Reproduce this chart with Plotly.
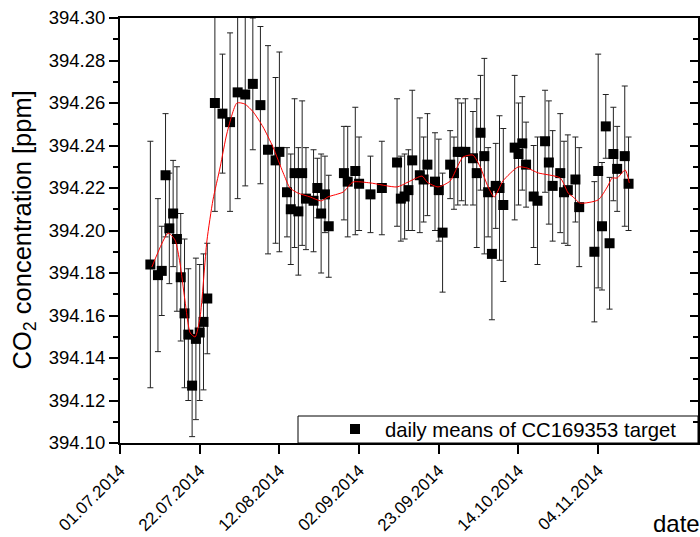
import pandas as pd
import plotly.graph_objects as go

# ---- data ----
start = pd.Timestamp("2014-07-01")

day_offsets = [8, 10, 11, 12, 13, 14, 15, 16, 17, 18, 19, 20, 21, 22, 23,
               25, 27, 29, 31, 33, 35, 37, 39, 41, 42, 44, 45, 46, 47, 48, 49, 51, 52, 53, 54, 55,
               59, 60, 62, 63, 66, 69, 73, 74, 75, 76, 77, 79, 80, 81, 83, 84, 85, 87, 88, 89, 90,
               91, 93, 94, 95, 96, 97, 98, 99, 100, 101,
               104, 105, 106, 107, 109, 110, 112, 113, 114, 116, 117, 118, 120, 121, 125, 126, 127,
               128, 129, 130, 131, 133, 134]

co2_means = [394.184, 394.179, 394.181, 394.226, 394.201, 394.208, 394.196, 394.178, 394.161,
             394.151, 394.127, 394.149, 394.152, 394.157, 394.168,
             394.260, 394.255, 394.251, 394.265, 394.264, 394.269, 394.259, 394.238, 394.233,
             394.237, 394.218, 394.210, 394.227, 394.209, 394.227, 394.215, 394.214, 394.220,
             394.208, 394.217, 394.202,
             394.227, 394.223, 394.228, 394.222, 394.217, 394.220, 394.232, 394.215, 394.216,
             394.219, 394.233, 394.226, 394.224, 394.231, 394.223, 394.219, 394.199, 394.231,
             394.227, 394.237, 394.237, 394.237, 394.234, 394.227, 394.246, 394.235, 394.218,
             394.189, 394.221, 394.220, 394.212,
             394.239, 394.236, 394.241, 394.231, 394.216, 394.214, 394.242, 394.232, 394.221,
             394.227, 394.218, 394.219, 394.224, 394.211, 394.190, 394.228, 394.202, 394.249,
             394.194, 394.236, 394.229, 394.235, 394.222]

co2_errors = [0.058, 0.036, 0.021, 0.029, 0.026, 0.025, 0.034, 0.030, 0.035, 0.031, 0.024,
              0.038, 0.032, 0.032, 0.026,
              0.051, 0.028, 0.042, 0.050, 0.043, 0.031, 0.037, 0.049, 0.039, 0.047, 0.021,
              0.026, 0.035, 0.030, 0.034, 0.024, 0.024, 0.014, 0.028, 0.018, 0.024,
              0.022, 0.026, 0.030, 0.022, 0.018, 0.022, 0.030, 0.020, 0.020, 0.019, 0.033,
              0.027, 0.020, 0.024, 0.023, 0.024, 0.028, 0.016, 0.017, 0.025, 0.023, 0.025,
              0.022, 0.035, 0.027, 0.046, 0.021, 0.031, 0.020, 0.034, 0.036,
              0.034, 0.024, 0.022, 0.020, 0.024, 0.030, 0.024, 0.029, 0.026, 0.028, 0.024,
              0.026, 0.020, 0.028, 0.033, 0.055, 0.030, 0.015, 0.031, 0.022, 0.020, 0.033, 0.022]

smooth_days = [8.4, 12.7, 14.5, 15.8, 17.1, 18.5, 19.8, 21.1, 22.9, 24.5, 26.4, 28.2, 30.8,
               32.9, 35.1, 37.7, 40.3, 43.0, 44.8, 46.9, 50.1, 53.0, 54.8, 58.8, 61.4, 65.9,
               73.0, 75.9, 79.6, 80.9, 83.8, 87.0, 89.1, 90.4, 93.0, 94.9, 97.0, 98.6, 100.9,
               104.9, 107.3, 110.2, 116.0, 118.1, 119.4, 121.2, 126.0, 128.4, 129.7, 131.0,
               133.1, 134.2]
smooth_vals = [394.1828, 394.1988, 394.1955, 394.1847, 394.1673, 394.1518, 394.1499, 394.1593,
               394.1951, 394.2144, 394.2299, 394.2459, 394.2600, 394.2595, 394.2558, 394.2487,
               394.2393, 394.2271, 394.2200, 394.2176, 394.2158, 394.2139, 394.2158, 394.2181,
               394.2228, 394.2224, 394.2205, 394.2228, 394.2256, 394.2228, 394.2205, 394.2233,
               394.2308, 394.2346, 394.2355, 394.2299, 394.2205, 394.2158, 394.2233, 394.2299,
               394.2294, 394.2271, 394.2247, 394.2176, 394.2158, 394.2129, 394.2144, 394.2205,
               394.2247, 394.2247, 394.2285, 394.2224]

tick_dates = ["2014-07-01", "2014-07-22", "2014-08-12", "2014-09-02",
              "2014-09-23", "2014-10-14", "2014-11-04"]
tick_labels = ["01.07.2014", "22.07.2014", "12.08.2014", "02.09.2014",
               "23.09.2014", "14.10.2014", "04.11.2014"]

legend_name = "daily means of CC169353 target"

# ---- build ----
dates = [start + pd.Timedelta(days=d) for d in day_offsets]
sm_dates = [start + pd.Timedelta(days=d) for d in smooth_days]

FONT = "Liberation Sans, Arial, sans-serif"

fig = go.Figure()
fig.add_trace(go.Scatter(
    x=dates, y=co2_means, mode="markers", name=legend_name,
    marker=dict(symbol="square", size=10, color="black"),
    error_y=dict(type="data", array=co2_errors, visible=True,
                 color="#222222", thickness=1, width=3),
))
fig.add_trace(go.Scatter(
    x=sm_dates, y=smooth_vals, mode="lines", showlegend=False,
    line=dict(color="red", width=1, shape="spline", smoothing=0.6),
))
# invisible trace for right-side inward ticks
fig.add_trace(go.Scatter(x=[dates[0]], y=[co2_means[0]], yaxis="y2",
                         mode="markers", marker=dict(opacity=0),
                         showlegend=False, hoverinfo="skip"))

x_end = start + pd.Timedelta(days=152.3)

fig.update_layout(
    width=700, height=537,
    margin=dict(l=120, r=2, t=18, b=94, autoexpand=False),
    paper_bgcolor="white", plot_bgcolor="white",
    font=dict(family=FONT, color="black", size=17),
    showlegend=True,
    legend=dict(x=(325 - 120) / 578, y=0.032, xanchor="left", yanchor="middle",
                bgcolor="rgba(0,0,0,0)", borderwidth=0, itemwidth=50,
                font=dict(family=FONT, size=20.3, color="black")),
    xaxis=dict(
        range=[start, x_end], tickvals=tick_dates, ticktext=tick_labels, automargin=False,
        tickangle=-45, ticks="outside", ticklen=9, tickwidth=1.5, tickcolor="black",
        showline=True, linecolor="black", linewidth=2, mirror=True,
        showgrid=False, zeroline=False,
        tickfont=dict(family=FONT, size=17, color="black"),
    ),
    yaxis=dict(
        range=[394.10, 394.30], dtick=0.02, tick0=394.10, tickformat=".2f", automargin=False,
        ticks="outside", ticklen=9, tickwidth=1.5, tickcolor="black",
        minor=dict(ticks="outside", ticklen=5, tickwidth=1.5, tickcolor="black", dtick=0.01),
        showline=True, linecolor="black", linewidth=2, mirror=True,
        showgrid=False, zeroline=False,
        tickfont=dict(family=FONT, size=18.5, color="black"),
    ),
    yaxis2=dict(
        range=[394.10, 394.30], dtick=0.02, tick0=394.10, overlaying="y", side="right",
        anchor="x", showticklabels=False, ticks="inside", ticklen=8, tickwidth=1.5,
        tickcolor="black", automargin=False,
        minor=dict(ticks="inside", ticklen=5, tickwidth=1.5, tickcolor="black", dtick=0.01),
        showgrid=False, zeroline=False, showline=False,
    ),
    shapes=[dict(type="rect", xref="paper", yref="paper",
                 x0=(298 - 120) / 578, x1=1.0, y0=0.0, y1=(443 - 416) / 425,
                 line=dict(color="black", width=1), fillcolor="rgba(0,0,0,0)", layer="above")],
    annotations=[
        dict(text="CO<sub>2</sub> concentration [ppm]", textangle=-90,
             xref="paper", yref="paper", x=(23 - 120) / 578, y=0.5,
             xanchor="center", yanchor="middle", showarrow=False,
             font=dict(family=FONT, size=25.5, color="black")),
        dict(text="date", xref="paper", yref="paper", x=1.007, y=(443 - 523) / 425,
             xanchor="right", yanchor="middle", showarrow=False,
             font=dict(family=FONT, size=24, color="black")),
    ],
)

fig.write_html("out.html")
